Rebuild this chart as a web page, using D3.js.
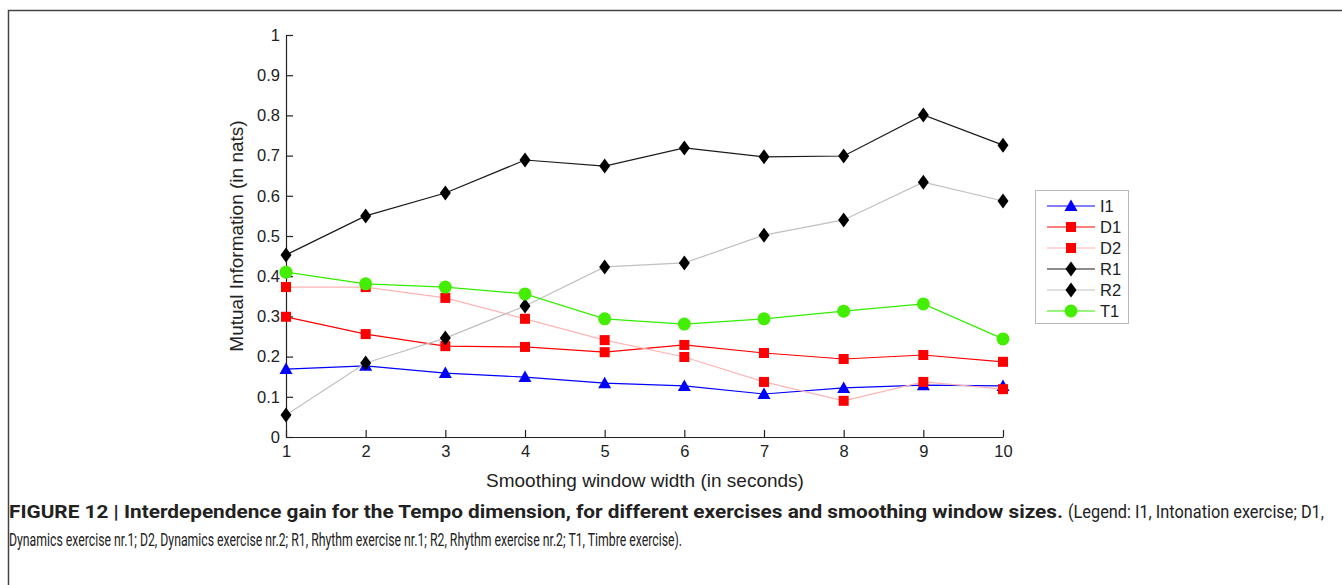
<!DOCTYPE html>
<html><head><meta charset="utf-8">
<script src="https://cdn.jsdelivr.net/npm/d3@7/dist/d3.min.js"></script>
<style>
html,body{margin:0;padding:0;background:#fff;}
svg{display:block;font-family:"Liberation Sans",Arial,sans-serif;}
</style></head>
<body><svg id="c" width="1342" height="585"></svg>
<script>
const windows = [1,2,3,4,5,6,7,8,9,10];
const yTicks = [0,0.1,0.2,0.3,0.4,0.5,0.6,0.7,0.8,0.9,1];
const seriesNames = ["I1","D1","D2","R1","R2","T1"];
const I1 = [0.169,0.177,0.159,0.149,0.134,0.127,0.107,0.122,0.129,0.127];
const D1 = [0.299,0.256,0.226,0.224,0.211,0.229,0.209,0.194,0.204,0.187];
const D2 = [0.373,0.373,0.346,0.294,0.241,0.199,0.137,0.090,0.137,0.119];
const R1 = [0.453,0.550,0.607,0.689,0.674,0.719,0.697,0.699,0.801,0.726];
const R2 = [0.055,0.184,0.246,0.326,0.423,0.433,0.502,0.540,0.634,0.587];
const T1 = [0.410,0.381,0.373,0.356,0.294,0.281,0.294,0.313,0.331,0.244];
const values = {I1,D1,D2,R1,R2,T1};
const lineColors = {I1:"#0000ff",D1:"#ff0000",D2:"#ffb4b4",R1:"#1a1a1a",R2:"#c0c0c0",T1:"#33ee00"};
const markerColors = {I1:"#0000ff",D1:"#ff0000",D2:"#ff0000",R1:"#000000",R2:"#000000",T1:"#44ee00"};
const markerTypes = {I1:"tri",D1:"sq",D2:"sq",R1:"dia",R2:"dia",T1:"circ"};

const svg = d3.select("#c");
svg.append("path").attr("d","M8.5,585 V10.5 H1342").attr("fill","none").attr("stroke","#444").attr("stroke-width",1.5);

const x = d3.scaleLinear().domain([1,10]).range([286,1003]);
const y = d3.scaleLinear().domain([0,1]).range([437,35]);

const xAxis = svg.append("g").attr("transform","translate(0,437)")
  .call(d3.axisBottom(x).tickValues(windows).tickFormat(d3.format("d")).tickSizeInner(-7).tickSizeOuter(0).tickPadding(8));
const yAxis = svg.append("g").attr("transform","translate(286,0)")
  .call(d3.axisLeft(y).tickValues(yTicks).tickFormat(d=>d===0?"0":(d===1?"1":d3.format(".1f")(d))).tickSizeInner(-7).tickSizeOuter(0).tickPadding(6));
[xAxis,yAxis].forEach(a=>{
  a.selectAll("path,line").attr("stroke","#222").attr("stroke-width",1.2);
  a.selectAll("text").attr("font-size",16.5).attr("fill","#222").attr("font-family","Liberation Sans, Arial, sans-serif");
});

svg.append("text").attr("x",645).attr("y",487).attr("text-anchor","middle").attr("font-size",19).attr("fill","#222").text("Smoothing window width (in seconds)");
svg.append("text").attr("transform","translate(243,236) rotate(-90)").attr("text-anchor","middle").attr("font-size",19).attr("fill","#222").text("Mutual Information (in nats)");

function marker(g, type, cx, cy, color){
  if(type==="tri") g.append("path").attr("d",`M${cx},${cy-6.5} L${cx+6.5},${cy+5} L${cx-6.5},${cy+5} Z`).attr("fill",color);
  else if(type==="sq") g.append("rect").attr("x",cx-5).attr("y",cy-5).attr("width",10).attr("height",10).attr("fill",color);
  else if(type==="dia") g.append("path").attr("d",`M${cx},${cy-7.5} L${cx+5.5},${cy} L${cx},${cy+7.5} L${cx-5.5},${cy} Z`).attr("fill",color);
  else g.append("circle").attr("cx",cx).attr("cy",cy).attr("r",6.5).attr("fill",color);
}

const line = d3.line().x((d,i)=>x(windows[i])).y(d=>y(d));
seriesNames.forEach(s=>{
  const g = svg.append("g");
  g.append("path").attr("d",line(values[s])).attr("fill","none").attr("stroke",lineColors[s]).attr("stroke-width",1.2);
  values[s].forEach((v,i)=>marker(g, markerTypes[s], x(windows[i]), y(v), markerColors[s]));
});

const lg = svg.append("g");
lg.append("rect").attr("x",1035.5).attr("y",190.5).attr("width",93).attr("height",133).attr("fill","#fff").attr("stroke","#bbb");
seriesNames.forEach((s,i)=>{
  const ly = 206 + i*21;
  lg.append("line").attr("x1",1047).attr("x2",1095).attr("y1",ly).attr("y2",ly).attr("stroke",lineColors[s]).attr("stroke-width",1.2);
  marker(lg, markerTypes[s], 1071, ly, markerColors[s]);
  lg.append("text").attr("x",1100).attr("y",ly+6).attr("font-size",16.5).attr("fill","#222").text(s);
});

function capText(xp, yp, txt, len, bold, fs){
  svg.append("text").attr("x",xp).attr("y",yp).attr("font-size",fs).attr("fill","#222")
    .attr("font-family","Roboto, sans-serif").attr("font-weight",bold?"bold":"normal")
    .attr("textLength",len).attr("lengthAdjust","spacingAndGlyphs").text(txt);
}
capText(9, 518, "FIGURE 12 | Interdependence gain for the Tempo dimension, for different exercises and smoothing window sizes.", 1054, true, 17.5);
capText(1068, 518, "(Legend: I1, Intonation exercise; D1,", 256, false, 17.5);
capText(9, 546, "Dynamics exercise nr.1; D2, Dynamics exercise nr.2; R1, Rhythm exercise nr.1; R2, Rhythm exercise nr.2; T1, Timbre exercise).", 673, false, 17.5);
</script></body></html>
